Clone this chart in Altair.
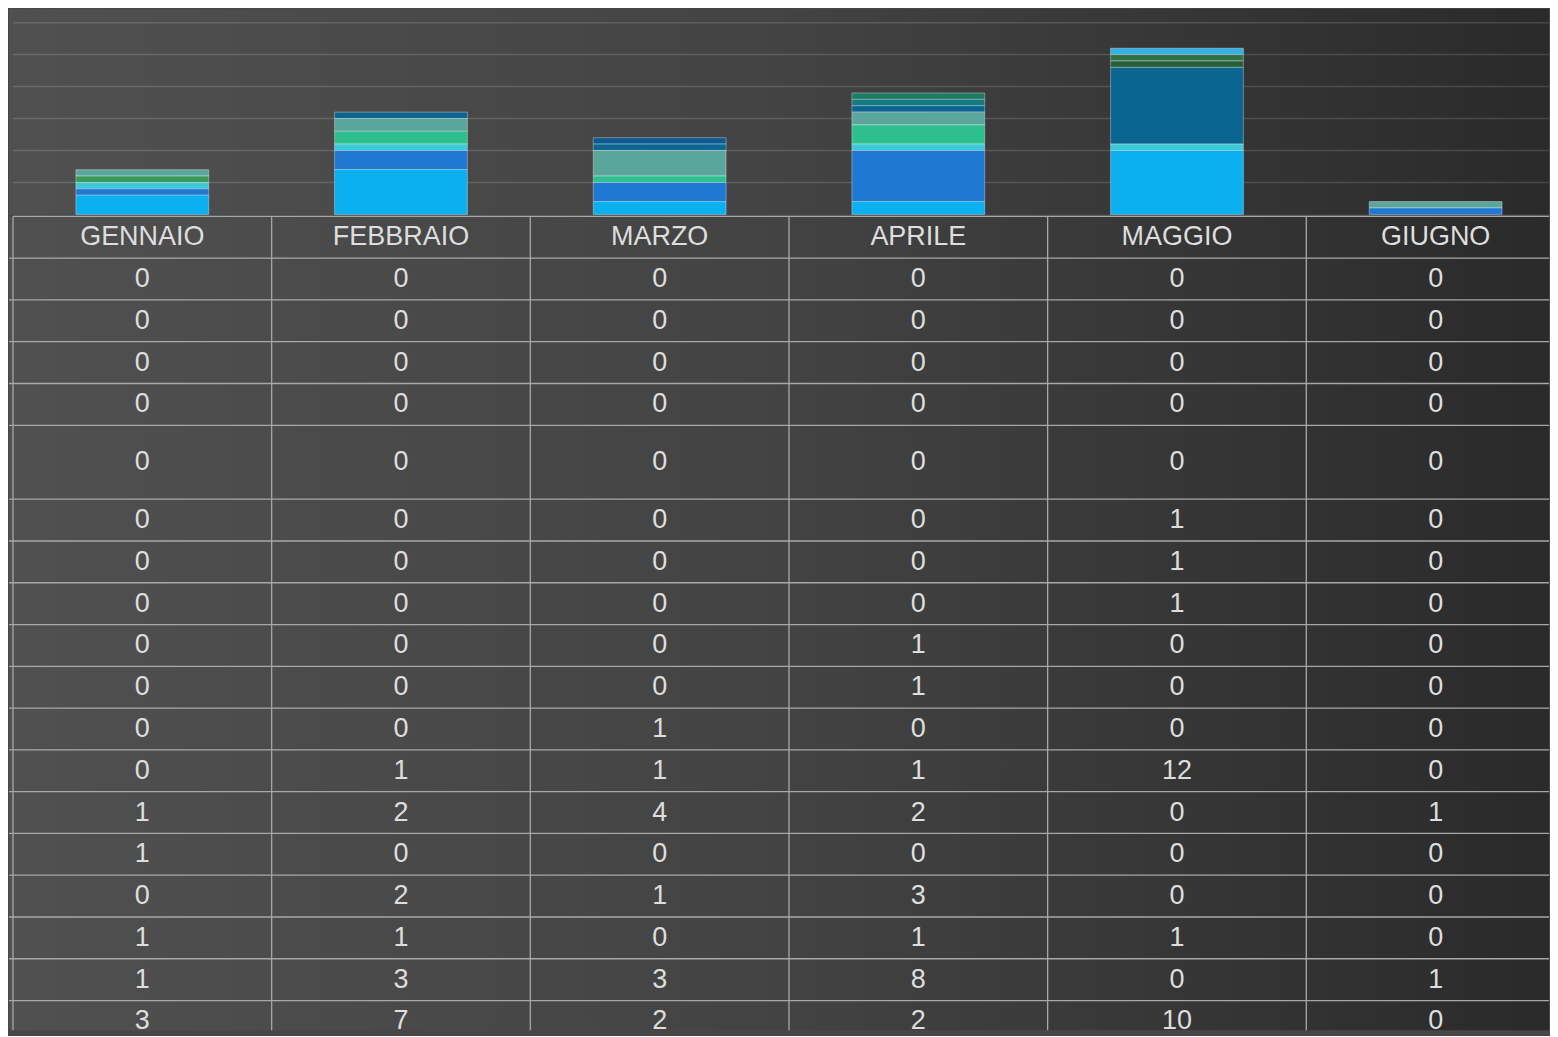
import altair as alt
import pandas as pd

months = ["GENNAIO", "FEBBRAIO", "MARZO", "APRILE", "MAGGIO", "GIUGNO"]

# table rows, top to bottom (row labels are cut off in the reference)
s01 = [0, 0, 0, 0, 0, 0]
s02 = [0, 0, 0, 0, 0, 0]
s03 = [0, 0, 0, 0, 0, 0]
s04 = [0, 0, 0, 0, 0, 0]
s05 = [0, 0, 0, 0, 0, 0]
s06 = [0, 0, 0, 0, 1, 0]
s07 = [0, 0, 0, 0, 1, 0]
s08 = [0, 0, 0, 0, 1, 0]
s09 = [0, 0, 0, 1, 0, 0]
s10 = [0, 0, 0, 1, 0, 0]
s11 = [0, 0, 1, 0, 0, 0]
s12 = [0, 1, 1, 1, 12, 0]
s13 = [1, 2, 4, 2, 0, 1]
s14 = [1, 0, 0, 0, 0, 0]
s15 = [0, 2, 1, 3, 0, 0]
s16 = [1, 1, 0, 1, 1, 0]
s17 = [1, 3, 3, 8, 0, 1]
s18 = [3, 7, 2, 2, 10, 0]
series_values = [s01, s02, s03, s04, s05, s06, s07, s08, s09, s10,
                 s11, s12, s13, s14, s15, s16, s17, s18]
series_names = [f"Serie {i + 1}" for i in range(len(series_values))]
series_colors = ["#1e88c8", "#2a9d8f", "#3b7fb5", "#22789a", "#4a9a8a",
                 "#34b2e6", "#2f7049", "#255f3a", "#1e7a62", "#157a82",
                 "#0d5a8f", "#0a6690", "#5aa69d", "#3a9a58", "#2ebf8e",
                 "#3ccad8", "#1f78d1", "#0ab0ef"]
row_lines = [1, 1, 1, 1, 1.77, 1, 1, 1, 1, 1, 1, 1, 1, 1, 1, 1, 1, 1]
grid_values = [5, 10, 15, 20, 25, 30]

# layout (pixels)
W = 1542
OFF = 4
STEP = 259
BAR_H = 206
TAB_H = 815
LINE = 41.83
PX_PER_UNIT = 6.4
x_dom = [-OFF / STEP, (W - OFF) / STEP]
y_bar_max = BAR_H / PX_PER_UNIT
y_tab_max = TAB_H / LINE

bg_grad = alt.LinearGradient(
    gradient="linear",
    stops=[alt.GradientStop(offset=0, color="#505050"),
           alt.GradientStop(offset=0.5, color="#434343"),
           alt.GradientStop(offset=1, color="#2a2a2a")],
    x1=0, x2=1, y1=0, y2=0,
)

# ---------- bars ----------
bar_rows = []
for si, vals in enumerate(series_values):
    for mi, v in enumerate(vals):
        if v > 0:
            bar_rows.append({"month": months[mi], "xc": mi + 0.5, "series": series_names[si],
                             "value": v, "stackorder": len(series_values) - si})
bar_df = pd.DataFrame(bar_rows)

xs_bar = alt.Scale(domain=x_dom, nice=False, zero=False, padding=0)
ys_bar = alt.Scale(domain=[0, y_bar_max], nice=False, padding=0)

bg_bar = alt.Chart(pd.DataFrame({"a": [0]})).mark_rect(fill=bg_grad).encode(
    x=alt.value(0), x2=alt.value(W), y=alt.value(0), y2=alt.value(BAR_H))

grid = alt.Chart(pd.DataFrame({"g": grid_values})).mark_rule(
    color="white", opacity=0.14, strokeWidth=1.5).encode(
    y=alt.Y("g:Q", scale=ys_bar, axis=None), x=alt.value(OFF), x2=alt.value(W))

bars = alt.Chart(bar_df).mark_bar(width=133, stroke="#ffffff", strokeOpacity=0.35,
                                  strokeWidth=1).encode(
    x=alt.X("xc:Q", scale=xs_bar, axis=None),
    y=alt.Y("value:Q", stack="zero", scale=ys_bar, axis=None),
    color=alt.Color("series:N", scale=alt.Scale(domain=series_names, range=series_colors),
                    legend=None),
    order=alt.Order("stackorder:Q", sort="ascending"),
)

bar_chart = alt.layer(bg_bar, grid, bars).properties(width=W, height=BAR_H)

# ---------- data table ----------
bounds = [0.0, 1.0]
for rl in row_lines:
    bounds.append(bounds[-1] + rl)

hl = [{"b": b, "xs": (0 if i == 0 else x_dom[0]), "xe": x_dom[1]}
      for i, b in enumerate(bounds) if b <= y_tab_max]
hl_df = pd.DataFrame(hl)
vl_df = pd.DataFrame({"xb": [i for i in range(len(months) + 1) if i <= x_dom[1]],
                      "y0": 0.0, "y1": y_tab_max})

txt = []
for mi, m in enumerate(months):
    txt.append({"xc": mi + 0.5, "yc": 0.5, "label": m})
for si, vals in enumerate(series_values):
    yc = (bounds[si + 1] + bounds[si + 2]) / 2
    for mi, v in enumerate(vals):
        txt.append({"xc": mi + 0.5, "yc": yc, "label": str(v)})
txt_df = pd.DataFrame(txt)

xs_tab = alt.Scale(domain=x_dom, nice=False, zero=False, padding=0)
ys_tab = alt.Scale(domain=[0, y_tab_max], nice=False, zero=False, reverse=True, padding=0)

bg_tab = alt.Chart(pd.DataFrame({"a": [0]})).mark_rect(fill=bg_grad).encode(
    x=alt.value(0), x2=alt.value(W), y=alt.value(0), y2=alt.value(TAB_H))

hlines = alt.Chart(hl_df).mark_rule(color="#a8a8a8", strokeWidth=1.3).encode(
    x=alt.X("xs:Q", scale=xs_tab, axis=None), x2="xe:Q",
    y=alt.Y("b:Q", scale=ys_tab, axis=None))

vlines = alt.Chart(vl_df).mark_rule(color="#a8a8a8", strokeWidth=1.3).encode(
    x=alt.X("xb:Q", scale=xs_tab, axis=None),
    y=alt.Y("y0:Q", scale=ys_tab, axis=None), y2="y1:Q")

texts = alt.Chart(txt_df).mark_text(font="Liberation Sans", fontSize=27, color="#dedede",
                                    baseline="middle", align="center").encode(
    x=alt.X("xc:Q", scale=xs_tab, axis=None),
    y=alt.Y("yc:Q", scale=ys_tab, axis=None),
    text="label:N")

table_chart = alt.layer(bg_tab, hlines, vlines, texts).properties(width=W, height=TAB_H)

chart = alt.vconcat(bar_chart, table_chart, spacing=0).resolve_scale(
    x="independent", y="independent", color="independent"
).properties(
    padding={"left": 0, "top": 0, "right": 0, "bottom": 0}
).configure(background="#474747").configure_view(stroke=None)

chart.save("out.html", embed_options={"renderer": "svg", "actions": False})
